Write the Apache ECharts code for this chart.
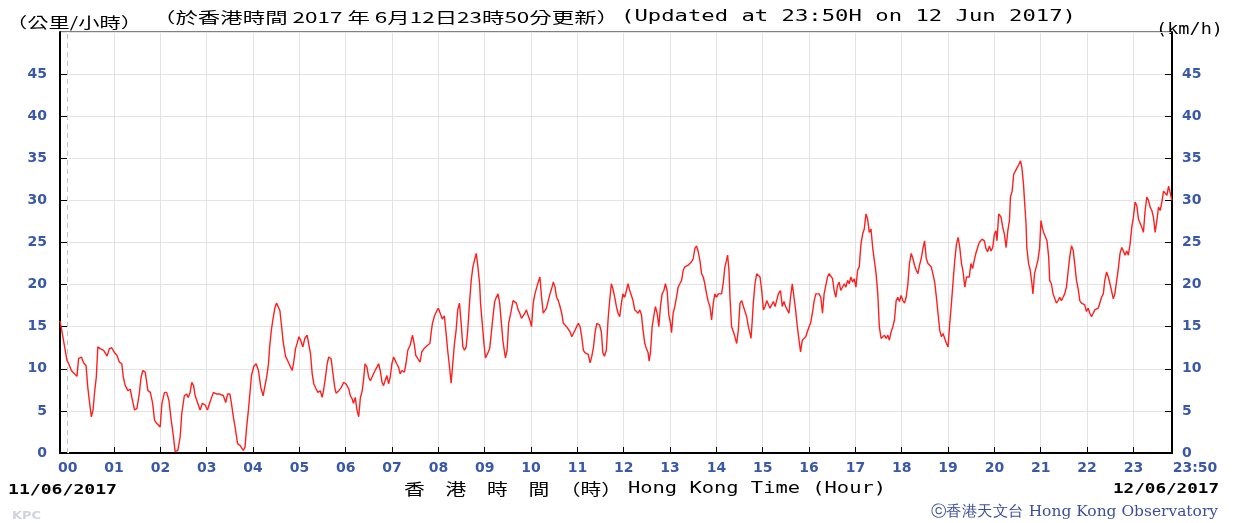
<!DOCTYPE html>
<html>
<head>
<meta charset="utf-8">
<script src="https://cdn.jsdelivr.net/npm/echarts@6/dist/echarts.min.js"></script>
<style>
html,body{margin:0;padding:0;background:#fff}
#main{width:1235px;height:523px}
</style>
</head>
<body>
<div id="main"></div>
<script>
// 時間軸標籤 (小時)
var hourLabels = ['00','01','02','03','04','05','06','07','08','09','10','11',
    '12','13','14','15','16','17','18','19','20','21','22','23','23:50'];

// 讀數時間 (由 12/06 00:00 起計, 分鐘)
var timeMin = [
    -10,-8.6,-4,-1,1.3,4.7,7.8,10,12,14,17.7,20.7,23.7,26,28.4,30.6,32.8,35,37,39,42,46.5,51,54,57,
    60.7,63.7,66.8,70,72,74.5,78,81,83,86.6,89.6,92.6,95,97.3,100.4,103.8,107,110,112.4,115.4,119.7,
    122,125.3,128,131,134,137,139,142.6,145.6,147.7,151,154,156,158.5,160.7,163,165,168.4,171.4,174.4,
    178,181,184,188.7,193,197,201.6,204.6,207,210,212,214.5,216.7,220,223,227.4,229.6,231.7,234,
    238,241,244,247,250,253,255.5,257.6,260,261.5,263.7,265.8,268.4,270.5,272.7,274.8,277,279,282,
    285.6,288.6,290.8,293,295,297,299.4,301.6,304.5,307,310,312,314.4,316.6,318.7,321.7,324,327,329.5,
    331.6,333.8,336,338,341,343,345.8,347.5,351,354.4,357.4,360.4,364,366,368,370,372.4,374.6,376.8,
    379,381,383,385,387.5,389.7,392,394,396,398,400.4,402.6,404.7,407,409,411,413.4,415.5,417.6,419.8,
    422,424,426,428.4,430.5,432.7,436,438,440.4,443.4,446.5,449,450.7,453.4,456.3,458.5,461.5,463.7,
    466,469,470.5,472.3,475,478,480,482,485,487.7,
    490,492,494.3,496.5,498.7,500.8,503,505,507.3,509.5,511.7,513.8,516,518,520.3,522.5,524.7,526.8,
    529,531,533.4,534.6,536.8,539,541,544.2,546.4,548.5,550.7,552.9,555,557.2,559.4,561.6,563.7,566.8,
    569,571,573.7,576.7,578.9,581,583.3,585.4,587.6,589.8,592,594,596,598.4,600.6,602.8,605,607,609.3,
    611.5,613.6,615.8,618,620,622.3,624.5,626.6,628.8,631,633,635.3,637.5,639.7,641.8,644,646,648.3,
    650.5,652.7,654.8,657,659,661.3,663.5,665.6,667.8,670,672,674,676.5,678.7,680.9,683,685.2,688.7,
    691,693,695,697.5,699.7,701.8,704,706,708.3,710.5,712.6,714.8,717,719,721.3,723.5,725.6,727.8,
    730,732,734.3,736.4,738.6,740.8,743,745,747.3,749.4,751.6,752.9,754.6,756.8,759,761,763.3,765.4,
    767.6,769.7,772,774,776.2,778.4,780.6,781.9,784,786.2,788.4,790.5,792.7,795,797,799.2,801.4,803.5,
    805.7,807.8,810,812.2,814.3,816.5,818.6,820.8,823,825,827.3,829.4,831.6,833.8,836,838,840.3,842.4,
    844.6,846.7,849,851,853.2,854.5,856.3,857.6,859.7,862,864,866.3,868.4,870.6,872.8,875,877,879.2,
    881.4,883.5,884.8,886.5,887.8,890,892.2,894.3,896.5,898.7,900.9,903,905.2,907.3,909.5,911.7,913.8,
    916,918,920.3,
    923,925.3,927.5,929.6,931.8,934,936,938.3,940.5,942.6,944.8,947,949,951.3,953.5,955.7,957.8,960,
    962,964.3,966.5,968.7,970.8,973,975.2,977.4,979.5,981.7,983.9,986,988.2,990.4,992.5,994.7,996.9,
    999,1001,1003.4,1005.6,1007.7,1009.9,1012,1014.2,1016.4,1018.5,1020.7,1022.9,1025,1027.2,1029.4,
    1031.5,1033.7,1035.8,1038,1040.2,1042.4,1044.5,1046.8,1049,1051,1053.3,1055.4,1057.6,1059.8,1062,
    1064,1066.3,1068.5,1070.6,1072.8,1075,1077,1079.3,1081.5,1083.6,1085.8,1088,1090,1092.3,1094.5,
    1096.6,1098.8,1101,1103,1105.3,1107.5,1109.6,1110.7,1111.8,1114,1116,1118.3,1120.5,1122.7,1124.9,
    1127,1129.2,1131.4,1133.5,1135.7,1137.9,1140,1142.2,1144.4,1146.6,1148.7,1150.9,1153,1155.2,
    1157.4,1159.5,1161.7,1163.9,1166,
    1167.5,1169.6,1171.8,1174,1176,1178.3,1180.5,1184,1187,1189,1191.3,1193.5,1195.7,1197.8,1200,1202,
    1203.4,1205.6,1208.7,1210.8,1213,1215.2,1217.4,1219.5,1220.8,1223,1225,1227.3,1229.5,1231.7,1233.8,
    1235.6,1237.7,1239,1241,1242,1244.3,1246.4,1248.6,1249.9,1252,1254.2,1256.4,1258.6,1260.3,1262,
    1263.8,1266,1268.1,1270.3,1271.6,1273.8,1276,1278,1280.3,1282.4,1284.6,1286.8,1289,1291,1293.3,
    1295.4,1297.6,1299.8,1302,1304,1306.3,1308.5,1310.6,1312.8,1315,1317,1319.3,1321.5,1323.6,1325.8,
    1328,1330,1332.3,1334.5,1336.6,1338.8,1341,1343,1345.3,1347.5,1349.7,1351.8,1354,1356,1358.4,1360.5,
    1362.7,1364.9,1367,1369.2,1371.4,1373.5,1375.7,1377.9,1380,1382.2,1384.4,1386.5,1388.7,1390.9,1393,
    1395.2,1397.4,1399.5,1401.7,1403.9,1406,1408.2,1410.4,1412.5,1414.7,1416.9,1419,1421,1423.4,1425.6,
    1427.8,1429.9
];

// 風速 (公里/小時)
var speedKmh = [
    15.7,15,12.6,11,10.6,9.8,9.5,9.6,9.1,11.2,11.4,10.7,10.4,7.8,5.9,4.3,5.1,7.4,9,12.6,12.4,12.2,11.5,12.4,12.5,
    11.9,11.6,10.8,10.6,9,8,7.4,7.6,6.6,5.1,5.3,7,9,9.8,9.6,7.4,7.2,5.9,3.9,3.5,3.1,
    5.9,7.2,7.2,6.3,3.9,1.9,0.2,0.3,1.9,4.7,6.8,7,6.6,7.2,8.4,8,6.8,5.9,5.1,5.9,
    5.7,5.1,6,7.2,7,7,6.8,6,7,7,5.9,4.3,3.1,1.1,0.9,0.3,0.7,3.1,5.1,
    9.2,10.3,10.6,9.8,7.8,6.8,6.8,9,10.6,12.6,14.6,15.9,17.3,17.8,17.9,16.9,15,13.2,11.5,
    10.8,10.2,9.8,11,12.4,13,13.8,13.4,12.6,13.6,14,13.9,11.8,9.4,8.2,7.6,7.2,7.4,6.6,
    7.6,9,10.6,11.4,11.2,9.8,7.8,7.1,7.4,7.8,8.4,8.2,7.6,6.8,6.5,5.9,6.6,5.1,4.3,
    6.6,7.2,8.6,10.6,10.2,9,8.6,9,9.2,9.8,10.2,10.6,9.8,8.4,8,8.6,9.2,8.2,9,10.6,
    11.4,11,10.6,10.2,9.4,9.8,9.6,10.6,12.2,12.8,14,12.8,11.6,11.2,10.8,12,12.4,12.6,
    12.8,13,14.2,15.4,16.3,16.9,17.2,16.7,15.9,16.3,
    14.2,12.2,10.3,8.3,10.7,13,14.6,17,17.8,15.4,12.6,12.2,12.6,14.6,17.8,20.5,22.1,22.9,
    23.7,22.3,20.1,17.8,15.4,13,11.3,11.9,12.4,14.2,16.2,18,18.5,18.9,17.8,15.4,13.2,11.3,
    12.2,15.4,16.6,18.1,18.2,17.8,17,16.6,16,16.2,16.6,17,16.4,15.8,15,17.8,18.9,19.1,20.3,
    20.9,18.5,16.6,16.6,17.2,18.1,18.9,19.5,20.3,19.7,18.5,18.1,17.4,16.6,15.4,15.6,15,15.2,
    14.4,13.8,13.6,14.6,15,15.4,15,13.8,12.2,11.9,11.7,11.7,10.7,11.5,12.6,14.4,15.4,15.2,
    14.4,11.9,11.5,12.2,15.8,18.1,20.1,19.5,18.5,17.4,16.6,16.2,17.8,18.9,18.5,19.3,20.1,19.3,
    18.7,18.1,17,17.2,16.6,17,16.4,14.6,13,12.4,11.9,10.9,11.9,15,15.2,17.4,16.6,15,
    17.4,18.9,19.3,20.1,19.3,16.4,15.4,14.3,16.6,17.4,18.5,19.7,20.1,20.5,21.7,22.1,22.3,22.3,
    22.5,22.7,23.1,24.3,24.6,23.9,22.9,21.3,20.9,20.1,18.9,18,17.4,15.8,17.8,18.9,18.5,18.9,
    18.9,18.9,20.3,22.1,22.9,23.5,21.7,18.5,15,14.4,13.8,13,14.6,17.8,18.1,17.4,17.4,16.2,
    15,14.2,13.6,15.8,17.8,20.1,21.3,21.5,20.9,19.3,17,17.4,18.1,18,17.2,17.4,18,
    17.4,18.1,18.9,
    19.3,17.4,18,17.4,17,16.6,18.5,20.1,18.5,17,15,13.4,12,13.4,13.6,13.8,14.4,15,
    15.4,16.6,18,18.9,18.9,18.9,18.5,16.6,18.9,19.1,20.9,21.3,21.5,20.7,19.3,18.5,19.9,
    20.3,19.3,19.3,20.1,19.7,20.5,20.1,20.9,20.3,20.7,19.7,21.7,22.1,24.8,26,
    26.6,28.4,27.8,26.2,26.6,24.4,22.9,21.3,18.9,15,13.6,13.8,14,13.6,14,
    13.4,14.4,15,15.8,18.1,18.5,18,18.7,18.1,17.8,18.5,20.1,22.5,23.7,23.1,
    22.3,21.7,21.3,22.3,23.1,24.3,25.2,25,23.1,22.5,22.3,22.1,22.1,20.3,18.5,
    16.6,14.6,13.8,14.2,13.6,13,12.6,15.4,17.8,20.5,22.9,24.8,25.6,24.4,
    22.5,21.5,19.7,20.9,21.1,
    20.9,22.5,21.9,22.9,23.7,24.4,25,25.4,25.2,24.3,23.9,24.6,24,24.4,26,26.4,
    25.2,28.4,28,26.8,26,24.4,26.4,27.6,30.4,31.1,33.1,33.5,33.9,34.3,34.7,
    33.9,31.9,30,27.2,24.4,22.5,21.7,20.1,18.9,21.3,22.1,22.9,24.4,27.6,26.8,
    26.2,26,25.2,23.3,20.5,20.1,18.9,18.7,17.8,18.1,18.5,18.1,18.5,18.9,19.7,
    21.5,23.3,24.6,24.1,22.5,20.5,19.5,18.1,17.8,18,17.6,16.8,17.2,16.6,16.2,
    16.6,17,17,17.2,17.4,18.5,18.9,20.5,21.5,20.9,20.1,19.9,18.3,18.9,20.5,21.9,
    23.7,24.4,24,23.5,24,23.5,24.8,26.8,28,29.8,29.4,27.8,27.6,26.8,26.2,
    28.8,30.4,30,29.2,28.8,28,26.2,27.6,29.2,28.8,29.8,31.1,30.9,30.6,31.7,
    31.5,30
];

var tickMinutes = hourLabels.map(function (s) {
    var p = s.split(':');
    return parseInt(p[0], 10) * 60 + (p[1] ? parseInt(p[1], 10) : 0);
});
var lastTick = tickMinutes[tickMinutes.length - 1];

var seriesData = [];
for (var i = 0; i < timeMin.length; i++) {
    seriesData.push([timeMin[i], speedKmh[i]]);
}

var blue = '#3a58a8';
var gridColor = '#e3e3e3';
var labelFont = {
    color: blue,
    fontFamily: '"DejaVu Sans"',
    fontWeight: 'bold',
    fontSize: 14
};

// 量度文字闊度, 用 scaleX 拉闊以配合原圖的像素字型
var measureCtx = document.createElement('canvas').getContext('2d');
function fitText(text, font, left, midY, width, color) {
    measureCtx.font = font;
    var w = measureCtx.measureText(text).width;
    return {
        type: 'text',
        x: left,
        y: midY,
        scaleX: width / w,
        silent: true,
        style: {
            text: text,
            font: font,
            fill: color || '#000',
            align: 'left',
            verticalAlign: 'middle'
        }
    };
}

var chart = echarts.init(document.getElementById('main'));

var option = {
    animation: false,
    backgroundColor: '#fff',
    grid: {
        left: 60,
        right: 63,
        top: 32,
        bottom: 70,
        show: true,
        borderColor: '#000',
        borderWidth: 1,
        backgroundColor: '#fff'
    },
    xAxis: {
        type: 'value',
        min: -10,
        max: lastTick,
        axisLine: {show: true, onZero: false, lineStyle: {color: '#000', width: 2}},
        axisTick: {
            show: true,
            inside: true,
            length: 6,
            lineStyle: {color: '#000', width: 1},
            customValues: tickMinutes.slice(0, -1)
        },
        axisLabel: Object.assign({
            customValues: tickMinutes,
            margin: 8,
            formatter: function (v) {
                var idx = tickMinutes.indexOf(v);
                if (idx === tickMinutes.length - 1) {
                    return '{end|' + hourLabels[idx] + '}';
                }
                return idx >= 0 ? hourLabels[idx] : '';
            },
            rich: {
                end: {
                    color: blue,
                    fontFamily: '"DejaVu Sans"',
                    fontWeight: 'bold',
                    fontSize: 14,
                    padding: [0, 0, 0, 46]
                }
            }
        }, labelFont),
        splitLine: {show: true, lineStyle: {color: gridColor, width: 1}}
    },
    yAxis: [{
        type: 'value',
        min: 0,
        max: 50,
        interval: 5,
        position: 'left',
        axisLine: {show: true, onZero: false, lineStyle: {color: '#000', width: 2}},
        axisTick: {show: true, inside: true, length: 7, lineStyle: {color: '#000'}},
        axisLabel: Object.assign({margin: 13, showMaxLabel: false}, labelFont),
        splitLine: {show: true, lineStyle: {color: gridColor, width: 1}}
    }, {
        type: 'value',
        min: 0,
        max: 50,
        interval: 5,
        position: 'right',
        axisLine: {show: true, onZero: false, lineStyle: {color: '#000', width: 2}},
        axisTick: {show: true, inside: true, length: 7, lineStyle: {color: '#000'}},
        axisLabel: Object.assign({margin: 10, showMaxLabel: false}, labelFont),
        splitLine: {show: false}
    }],
    series: [{
        name: '風速',
        type: 'line',
        yAxisIndex: 0,
        showSymbol: false,
        symbol: 'none',
        smooth: false,
        lineStyle: {color: '#ff1f1f', width: 1.4},
        data: seriesData,
        z: 4,
        markLine: {
            silent: true,
            z: 2,
            symbol: 'none',
            label: {show: false},
            data: [
                {xAxis: 0, lineStyle: {color: '#fff', type: 'solid', width: 2}},
                {xAxis: 0, lineStyle: {color: '#c4c4c4', type: [5, 4], width: 1}}
            ]
        }
    }],
    graphic: [
        fitText('（公里/小時）', '15px "Noto Sans CJK TC"', 6, 22, 136),
        fitText('（於香港時間 2017 年 6月12日23時50分更新）', '15px "Noto Sans CJK TC"', 153, 17, 466),
        fitText('(Updated at 23:50H on 12 Jun 2017)', '15px "DejaVu Sans Mono"', 621, 17, 455),
        fitText('(km/h)', '15px "DejaVu Sans Mono"', 1156, 30, 67),
        fitText('11/06/2017', 'bold 14px "DejaVu Sans Mono"', 8, 490, 109),
        fitText('香　港　時　間　（時）', '16px "Noto Sans CJK TC"', 404, 489, 218),
        fitText('Hong Kong Time (Hour)', '16px "DejaVu Sans Mono"', 628, 489, 258),
        fitText('12/06/2017', 'bold 14px "DejaVu Sans Mono"', 1113, 489, 106),
        fitText('KPC', 'bold 11px "DejaVu Sans"', 12, 516, 29, '#cfd3dc'),
        fitText('ⓒ香港天文台 Hong Kong Observatory', '15px "DejaVu Serif"', 931, 512, 287, '#3e4f9a')
    ]
};

chart.setOption(option);
</script>
</body>
</html>
